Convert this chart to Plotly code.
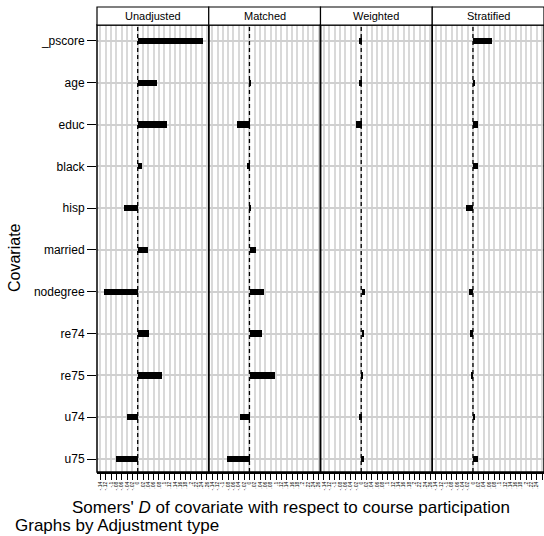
import plotly.graph_objects as go
from plotly.subplots import make_subplots

# Covariates (top to bottom) and Somers' D by adjustment type
covariates = ["_pscore", "age", "educ", "black", "hisp", "married",
              "nodegree", "re74", "re75", "u74", "u75"]
panels = ["Unadjusted", "Matched", "Weighted", "Stratified"]
unadjusted = [0.245, 0.072, 0.110, 0.017, -0.050, 0.038, -0.128, 0.042, 0.090, -0.040, -0.083]
matched = [0.0, 0.004, -0.048, -0.012, 0.005, 0.022, 0.053, 0.045, 0.094, -0.038, -0.087]
weighted = [-0.012, -0.012, -0.020, 0.0, 0.0, 0.0, 0.014, 0.010, 0.003, -0.012, 0.007]
stratified = [0.072, 0.010, 0.020, 0.020, -0.025, 0.0, -0.014, -0.010, -0.008, 0.010, 0.018]
series = [unadjusted, matched, weighted, stratified]

tick_vals = [-0.14, -0.12, -0.10, -0.08, -0.06, -0.04, -0.02, 0.0, 0.02, 0.04, 0.06,
             0.08, 0.10, 0.12, 0.14, 0.16, 0.18, 0.20, 0.22, 0.24, 0.26]
tick_text = ["-.14", "-.12", "-.1", "-.08", "-.06", "-.04", "-.02", "0", ".02", ".04", ".06",
             ".08", ".1", ".12", ".14", ".16", ".18", ".2", ".22", ".24", ".26"]

FONT = "Liberation Sans, Arial, sans-serif"
W, H = 544, 536
ML, MR, MT, MB = 97, 0, 25, 64
plot_w = W - ML - MR
plot_h = H - MT - MB

fig = make_subplots(rows=1, cols=4, shared_yaxes=True, horizontal_spacing=0)

for i, vals in enumerate(series):
    fig.add_trace(go.Bar(
        x=vals, y=covariates, orientation="h", base=0,
        width=0.15, marker=dict(color="black", line=dict(width=0)),
        showlegend=False, hoverinfo="x+y"), row=1, col=i + 1)

for i in range(4):
    fig.update_xaxes(
        row=1, col=i + 1,
        domain=[i / 4, (i + 1) / 4],
        range=[-0.153, 0.267],
        tickmode="array", tickvals=tick_vals, ticktext=tick_text,
        tickangle=-90, tickfont=dict(size=5, color="black", family=FONT),
        ticks="outside", ticklen=6, tickwidth=1, tickcolor="black",
        showgrid=True, gridcolor="#d9d9d9", gridwidth=2,
        showline=True, linecolor="black", linewidth=1.5,
        zeroline=False, fixedrange=True,
    )

fig.update_yaxes(
    categoryorder="array", categoryarray=covariates,
    range=[10.31, -0.38],
    showgrid=True, gridcolor="#d0d0d0", gridwidth=1.5,
    zeroline=False, fixedrange=True,
)
fig.update_yaxes(
    row=1, col=1,
    ticks="outside", ticklen=9, tickwidth=1, tickcolor="black",
    tickfont=dict(size=12, color="black", family=FONT),
)

shapes = []
annotations = []
strip_h = 18 / plot_h
for i, name in enumerate(panels):
    x0, x1 = i / 4, (i + 1) / 4
    # panel frame
    shapes.append(dict(type="rect", xref="paper", yref="paper", x0=x0, x1=x1, y0=0, y1=1,
                       line=dict(color="black", width=1.5), layer="above"))
    # strip box with panel title
    shapes.append(dict(type="rect", xref="paper", yref="paper", x0=x0, x1=x1, y0=1, y1=1 + strip_h,
                       line=dict(color="black", width=1.2), fillcolor="white"))
    annotations.append(dict(text=name, xref="paper", yref="paper", x=(x0 + x1) / 2,
                            y=1 + strip_h / 2, yanchor="middle", xanchor="center",
                            showarrow=False, font=dict(size=11, color="black", family=FONT)))
    # reference line at zero
    xr = "x" if i == 0 else f"x{i + 1}"
    shapes.append(dict(type="line", xref=xr, yref="paper", x0=0, x1=0, y0=0, y1=1,
                       line=dict(color="black", width=1.3, dash="4px,3px")))

annotations.append(dict(text="Somers' <i>D</i> of covariate with respect to course participation",
                        xref="paper", yref="paper", x=-(ML - 70) / plot_w,
                        y=-(507 - (H - MB)) / plot_h,
                        xanchor="left", yanchor="middle", showarrow=False,
                        font=dict(size=17, color="black", family=FONT)))
annotations.append(dict(text="Graphs by Adjustment type",
                        xref="paper", yref="paper", x=-(ML - 13) / plot_w,
                        y=-(525 - (H - MB)) / plot_h,
                        xanchor="left", yanchor="middle", showarrow=False,
                        font=dict(size=17, color="black", family=FONT)))
annotations.append(dict(text="Covariate", textangle=-90,
                        xref="paper", yref="paper", x=-(ML - 14) / plot_w,
                        y=(H - MB - 258) / plot_h,
                        xanchor="center", yanchor="middle", showarrow=False,
                        font=dict(size=16, color="black", family=FONT)))

fig.update_layout(
    width=W, height=H,
    margin=dict(l=ML, r=MR, t=MT, b=MB),
    paper_bgcolor="white", plot_bgcolor="white",
    bargap=0, shapes=shapes, annotations=annotations,
    font=dict(family=FONT, color="black"),
)

fig.write_html("out.html")
